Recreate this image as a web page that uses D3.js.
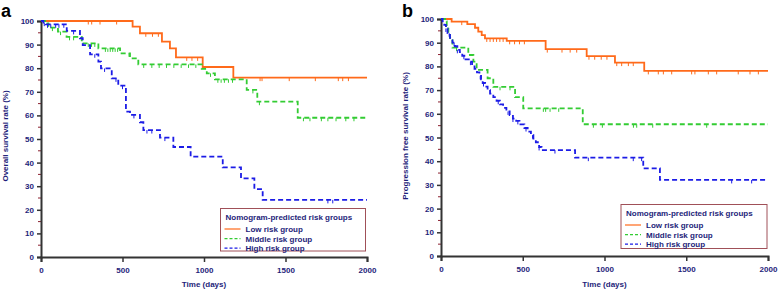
<!DOCTYPE html>
<html><head><meta charset="utf-8">
<script src="https://cdn.jsdelivr.net/npm/d3@7"></script>
<style>
body{margin:0;background:#fff;}
svg{display:block;font-family:"Liberation Sans",Arial,sans-serif;}
</style></head>
<body>
<svg id="c" width="778" height="289"></svg>
<script>
// ---- data ----
const xTicks = [0, 500, 1000, 1500, 2000];
const yTicks = [0, 10, 20, 30, 40, 50, 60, 70, 80, 90, 100];
const yMinor = [5, 15, 25, 35, 45, 55, 65, 75, 85, 95];
const groupNames = ["Low risk group", "Middle risk group", "High risk group"];
const legendTitle = "Nomogram-predicted risk groups";

// Panel a: overall survival
const aLowT = [0, 562, 607, 742, 791, 828, 992, 1180];
const aLowS = [100, 97.6, 94.8, 91.3, 88.4, 84.6, 80.5, 76.0];
const aLowC = [290, 311, 362, 464, 643, 684, 720, 894, 926, 961, 1344, 1356, 1523, 1683, 1824, 1851, 1886];

const aMidT = [0, 25, 45, 104, 157, 250, 352, 485, 546, 597, 986, 1017, 1067, 1262, 1327, 1575];
const aMidS = [100, 99, 97.2, 95.5, 93.3, 90.5, 88.4, 86.3, 84.2, 81.6, 79.7, 77.8, 75.3, 70.8, 65.8, 59.0];
const aMidC = [40, 70, 120, 175, 200, 290, 310, 330, 395, 410, 425, 440, 455, 470, 540, 630, 680, 725, 770, 815, 860, 905, 950, 1040, 1085, 1105, 1125, 1150, 1175, 1300, 1340, 1610, 1650, 1720, 1760, 1810, 1870, 1920];

const aHighT = [0, 15, 30, 158, 239, 256, 301, 352, 368, 434, 474, 521, 546, 607, 628, 730, 812, 918, 1115, 1227, 1309, 1360];
const aHighS = [100, 99.3, 98.6, 95.8, 92.7, 89.8, 85.9, 82.8, 79.9, 75.7, 72.6, 61.6, 60.2, 57.1, 53.8, 50.6, 46.6, 42.5, 38.0, 33.3, 28.8, 24.2];
const aHighC = [20, 40, 60, 90, 110, 140, 200, 330, 390, 460, 500, 570, 650, 680, 760, 1760, 1790];

// Panel b: progression free survival
const bLowT = [0, 65, 161, 208, 228, 249, 269, 402, 640, 891, 1064, 1243];
const bLowS = [100, 98.9, 97.8, 96.3, 94.7, 93.2, 91.8, 90.8, 87.3, 84.3, 81.6, 78.1];
const bLowC = [127, 280, 300, 320, 340, 360, 380, 420, 450, 480, 510, 650, 740, 790, 830, 905, 940, 980, 1015, 1075, 1105, 1146, 1176, 1268, 1329, 1360, 1411, 1533, 1553, 1635, 1686, 1818, 1890, 1941];

const bMidT = [0, 25, 35, 45, 55, 70, 167, 198, 218, 285, 320, 453, 503, 867];
const bMidS = [100, 99, 97, 94.6, 91.1, 87.9, 84.8, 82.0, 78.5, 75.0, 71.4, 67.0, 62.3, 55.6];
const bMidC = [95, 361, 422, 626, 640, 667, 720, 932, 987, 1177, 1197, 1295, 1625];

const bHighT = [0, 10, 20, 30, 40, 55, 70, 85, 100, 115, 130, 150, 170, 190, 205, 220, 235, 245, 255, 270, 285, 300, 320, 340, 360, 380, 400, 420, 440, 460, 480, 510, 530, 550, 565, 580, 600, 615, 820, 1237, 1339];
const bHighS = [100, 99, 97.5, 96, 94, 92, 90, 88.5, 87, 86, 84.5, 83, 82, 80.5, 79, 77.5, 76, 74.5, 73, 71.5, 70, 68.5, 67, 65.5, 64, 62.5, 61, 59.5, 58, 57, 55.5, 54, 52.5, 51, 49.5, 48, 46, 44.7, 41.5, 37.0, 32.1];
const bHighC = [30, 50, 80, 100, 140, 180, 240, 260, 350, 410, 440, 470, 520, 560, 600, 697, 901, 1176, 1227, 1778, 1900];

// ---- styles ----
const colors = ["#ff6a1a", "#33cc33", "#1c1ce6"];
const dashes = [null, "5,3", "5,3"];
const navy = "#1e1e7a";

const svg = d3.select("#c");

function stepVal(T, S, t) {
  let v = S[0];
  for (let i = 0; i < T.length; i++) if (T[i] <= t) v = S[i];
  return v;
}

function panel(cfg) {
  const x = d3.scaleLinear().domain([0, 2000]).range(cfg.xr);
  const y = d3.scaleLinear().domain([0, 100]).range(cfg.yr);
  const g = svg.append("g");

  // minor y ticks (dark red)
  g.selectAll(".mn").data(yMinor).enter().append("line")
    .attr("x1", x(0) - 3).attr("x2", x(0)).attr("y1", d => y(d)).attr("y2", d => y(d))
    .attr("stroke", "#8b2030").attr("stroke-width", 1);

  // y axis
  const ya = g.append("g").attr("transform", `translate(${x(0)},0)`)
    .call(d3.axisLeft(y).tickValues(yTicks).tickSize(4).tickPadding(3));
  ya.select(".domain").attr("stroke", "#333").attr("stroke-width", 2);
  ya.selectAll(".tick line").attr("stroke", "#333").attr("stroke-width", 1.5);
  ya.selectAll("text").attr("fill", navy).attr("font-size", 8).attr("font-weight", "bold")
    .attr("font-family", "Liberation Sans, Arial, sans-serif");

  // x axis
  const xa = g.append("g").attr("transform", `translate(0,${y(0)})`)
    .call(d3.axisBottom(x).tickValues(xTicks).tickSize(5).tickPadding(5).tickFormat(d3.format("d")));
  xa.select(".domain").attr("stroke", "#333").attr("stroke-width", 2);
  xa.selectAll(".tick line").attr("stroke", "#333").attr("stroke-width", 1.5);
  xa.selectAll("text").attr("fill", navy).attr("font-size", 8).attr("font-weight", "bold")
    .attr("font-family", "Liberation Sans, Arial, sans-serif");

  // axis titles
  g.append("text").attr("x", (x(0) + x(2000)) / 2).attr("y", 287)
    .attr("text-anchor", "middle").attr("font-size", 8).attr("font-weight", "bold")
    .attr("fill", navy).text("Time (days)");
  g.append("text")
    .attr("transform", `translate(${cfg.ylabX},${cfg.ylabY}) rotate(-90)`)
    .attr("text-anchor", "middle").attr("font-size", 8).attr("font-weight", "bold")
    .attr("fill", navy).text(cfg.ylab);

  // panel letter
  g.append("text").attr("x", cfg.letterX).attr("y", 17).attr("font-size", 18)
    .attr("font-weight", "bold").attr("fill", "#000").text(cfg.letter);

  // curves
  const line = d3.line().x(d => x(d[0])).y(d => y(d[1])).curve(d3.curveStepAfter);
  cfg.series.forEach((s, i) => {
    const pts = s.T.map((t, j) => [t, s.S[j]]);
    pts.push([2000, s.S[s.S.length - 1]]);
    g.append("path").datum(pts).attr("d", line).attr("fill", "none")
      .attr("stroke", colors[i]).attr("stroke-width", 1.8)
      .attr("stroke-dasharray", dashes[i]);
    g.selectAll(null).data(s.C).enter().append("line")
      .attr("x1", d => x(d)).attr("x2", d => x(d))
      .attr("y1", d => y(stepVal(s.T, s.S, d)))
      .attr("y2", d => y(stepVal(s.T, s.S, d)) + 3.5)
      .attr("stroke", colors[i]).attr("stroke-width", 1);
  });

  // legend
  const L = cfg.legend;
  const lg = g.append("g");
  lg.append("rect").attr("x", L.x).attr("y", L.y).attr("width", L.w).attr("height", L.h)
    .attr("fill", "#fff").attr("stroke", "#a05058").attr("stroke-width", 1);
  lg.append("text").attr("x", L.x + 5).attr("y", L.y + 11).attr("font-size", 8)
    .attr("font-weight", "bold").attr("fill", navy).text(legendTitle);
  groupNames.forEach((nm, i) => {
    const yy = L.y + 20.5 + i * 9.6;
    lg.append("line").attr("x1", L.x + 4).attr("x2", L.x + 20).attr("y1", yy).attr("y2", yy)
      .attr("stroke", colors[i]).attr("stroke-width", 1.2)
      .attr("stroke-dasharray", i ? "3,2" : null);
    lg.append("text").attr("x", L.x + 25).attr("y", yy + 3).attr("font-size", 8)
      .attr("font-weight", "bold").attr("fill", navy).text(nm);
  });
}

panel({
  xr: [41, 367], yr: [257, 21], letter: "a", letterX: 1,
  ylab: "Overall survival rate (%)", ylabX: 8, ylabY: 136,
  legend: {x: 220.5, y: 208.5, w: 145, h: 42.5},
  series: [{T: aLowT, S: aLowS, C: aLowC}, {T: aMidT, S: aMidS, C: aMidC}, {T: aHighT, S: aHighS, C: aHighC}]
});
panel({
  xr: [441, 768], yr: [256, 19], letter: "b", letterX: 402,
  ylab: "Progression free survival rate (%)", ylabX: 408, ylabY: 136,
  legend: {x: 621, y: 204.5, w: 146, h: 44},
  series: [{T: bLowT, S: bLowS, C: bLowC}, {T: bMidT, S: bMidS, C: bMidC}, {T: bHighT, S: bHighS, C: bHighC}]
});
</script>
</body></html>
